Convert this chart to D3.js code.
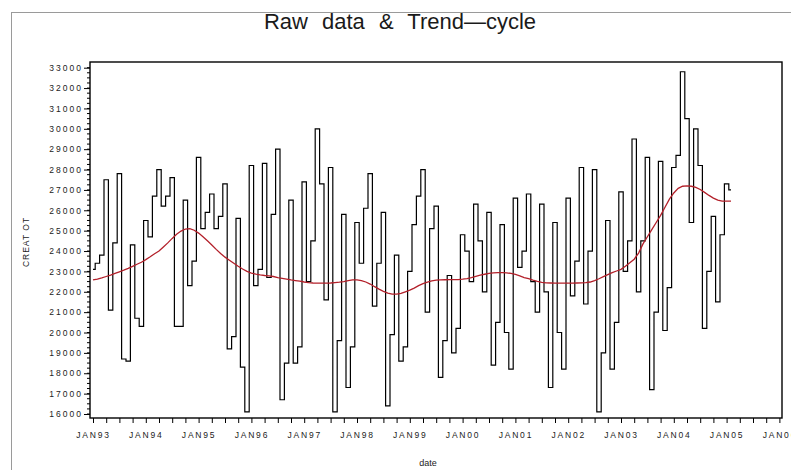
<!DOCTYPE html>
<html>
<head>
<meta charset="utf-8">
<script src="https://cdn.jsdelivr.net/npm/d3@7"></script>
<style>
  body { margin: 0; background: #fff; }
  text { font-family: "Liberation Sans", Arial, sans-serif; }
</style>
</head>
<body>
<svg id="chart" width="791" height="470"></svg>
<script>
// tick labels on the time axis (one per January)
var yearLabels = ["JAN93", "JAN94", "JAN95", "JAN96", "JAN97", "JAN98", "JAN99",
                  "JAN00", "JAN01", "JAN02", "JAN03", "JAN04", "JAN05", "JAN06"];

// monthly raw data, Jan 1993 .. Feb 2005
var rawData = [
  23100, 23400, 23800, 27500, 21100, 24400, 27800, 18700, 18600, 24300, 20700, 20300,
  25500, 24700, 26700, 28000, 26200, 26700, 27600, 20300, 20300, 26500, 22300, 23500,
  28600, 25100, 25900, 26800, 25100, 25700, 27300, 19200, 19800, 25600, 18300, 16100,
  28200, 22300, 23100, 28300, 22700, 25800, 29000, 16700, 18500, 26500, 18500, 19300,
  27400, 22500, 24500, 30000, 27300, 21600, 28100, 16100, 19600, 25800, 17300, 19300,
  25400, 23400, 26100, 27800, 21300, 23400, 25900, 16400, 19900, 23800, 18600, 19300,
  23000, 25300, 26700, 28000, 21000, 25100, 26200, 17800, 19600, 22800, 19000, 20200,
  24800, 24000, 22500, 26300, 24500, 22000, 25900, 18400, 20500, 25300, 20000, 18200,
  26600, 23200, 24000, 26800, 22500, 21000, 26300, 22000, 17300, 25400, 20000, 18200,
  26600, 21800, 23500, 28100, 21400, 24000, 28000, 16100, 19000, 25500, 18200, 20500,
  26900, 23000, 24500, 29500, 22000, 24500, 28600, 17200, 21000, 28400, 20100, 22200,
  28100, 28700, 32800, 30500, 25400, 30000, 28200, 20200, 23000, 25700, 21500, 24800,
  27300, 27000
];

// monthly trend-cycle, same months
var trendData = [
  22580, 22620, 22680, 22750, 22820, 22900, 22980, 23060, 23150, 23250, 23350, 23450,
  23580, 23720, 23870, 24000, 24200, 24400, 24620, 24820, 24980, 25080, 25100, 25020,
  24880, 24700, 24500, 24300, 24080, 23880, 23700, 23550, 23400, 23250, 23120, 23000,
  22920, 22870, 22830, 22800, 22780, 22750, 22700, 22660, 22620, 22580, 22550, 22520,
  22480, 22450, 22430, 22420, 22420, 22420, 22430, 22450, 22470, 22500, 22550, 22580,
  22580, 22550, 22480, 22380, 22250, 22130, 22020, 21930, 21880, 21880, 21920, 22000,
  22080, 22180, 22300, 22400, 22470, 22530, 22570, 22580, 22590, 22600, 22600, 22600,
  22620, 22650, 22700, 22760, 22820, 22860, 22900, 22930, 22940, 22940, 22930, 22900,
  22850, 22780, 22700, 22640, 22570, 22510, 22460, 22440, 22430, 22420, 22420, 22420,
  22420, 22420, 22430, 22440, 22450, 22480, 22550, 22640, 22740, 22840, 22940, 23020,
  23100, 23250, 23420, 23600, 23900, 24350, 24700, 25050, 25400, 25750, 26150, 26550,
  26850, 27080, 27180, 27200, 27180, 27120, 27020, 26880, 26730, 26600, 26500, 26450,
  26450, 26450
];

var yTicks = d3.range(16000, 33001, 1000);

var svg = d3.select("#chart");

// outer grey frame
svg.append("rect")
    .attr("x", 11.5).attr("y", 12.5)
    .attr("width", 800).attr("height", 470)
    .attr("fill", "none")
    .attr("stroke", "#9a9a9a")
    .attr("stroke-width", 1);

var plot = {left: 90, right: 782, top: 62, bottom: 418};

var x = d3.scaleLinear()
    .domain([0, 156])
    .range([93, 779.4]);

var y = d3.scaleLinear()
    .domain([16000, 33000])
    .range([414, 67.7]);

// title
svg.append("text")
    .attr("x", 400).attr("y", 29)
    .attr("text-anchor", "middle")
    .attr("font-size", 22)
    .attr("word-spacing", 8)
    .attr("fill", "#1a1a1a")
    .text("Raw data & Trend\u2014cycle");

// y axis
var yAxis = d3.axisLeft(y)
    .tickValues(yTicks)
    .tickSize(6)
    .tickPadding(1)
    .tickFormat(d3.format("d"));

var gy = svg.append("g")
    .attr("transform", "translate(" + plot.left + ",0)")
    .call(yAxis);
gy.select(".domain").remove();
gy.selectAll("text")
    .attr("font-size", 8.5)
    .attr("letter-spacing", 2)
    .attr("fill", "#222");

// minor y ticks
svg.append("g")
    .selectAll("line")
    .data(d3.range(16000, 33001, 250))
    .enter().append("line")
    .attr("x1", plot.left - 3).attr("x2", plot.left)
    .attr("y1", function (d) { return y(d); })
    .attr("y2", function (d) { return y(d); })
    .attr("stroke", "#000");

// x axis: quarter ticks, labelled every January
var xAxis = d3.axisBottom(x)
    .tickValues(d3.range(0, 157, 3))
    .tickSize(5)
    .tickPadding(9)
    .tickFormat(function (d) {
        return d % 12 === 0 ? yearLabels[d / 12] : "";
    });

var gx = svg.append("g")
    .attr("transform", "translate(0," + plot.bottom + ")")
    .call(xAxis);
gx.select(".domain").remove();
gx.selectAll("text")
    .attr("font-size", 8.5)
    .attr("letter-spacing", 1.8)
    .attr("fill", "#222");

// plot frame
svg.append("rect")
    .attr("x", plot.left).attr("y", plot.top)
    .attr("width", plot.right - plot.left)
    .attr("height", plot.bottom - plot.top)
    .attr("fill", "none")
    .attr("stroke", "#000")
    .attr("stroke-width", 1.4);

// axis titles
svg.append("text")
    .attr("x", 428).attr("y", 466)
    .attr("text-anchor", "middle")
    .attr("font-size", 9)
    .attr("fill", "#222")
    .text("date");

svg.append("text")
    .attr("transform", "translate(29,242) rotate(-90)")
    .attr("text-anchor", "middle")
    .attr("font-size", 8.5)
    .attr("letter-spacing", 1)
    .attr("fill", "#222")
    .text("CREAT OT");

// raw series, drawn as centred steps
var rawLine = d3.line()
    .x(function (d, i) { return x(i); })
    .y(function (d) { return y(d); })
    .curve(d3.curveStep);

svg.append("path")
    .datum(rawData)
    .attr("d", rawLine)
    .attr("fill", "none")
    .attr("stroke", "#000")
    .attr("stroke-width", 1.2);

// trend-cycle
var trendLine = d3.line()
    .x(function (d, i) { return x(i); })
    .y(function (d) { return y(d); });

svg.append("path")
    .datum(trendData)
    .attr("d", trendLine)
    .attr("fill", "none")
    .attr("stroke", "#b3202a")
    .attr("stroke-width", 1.3);
</script>
</body>
</html>
